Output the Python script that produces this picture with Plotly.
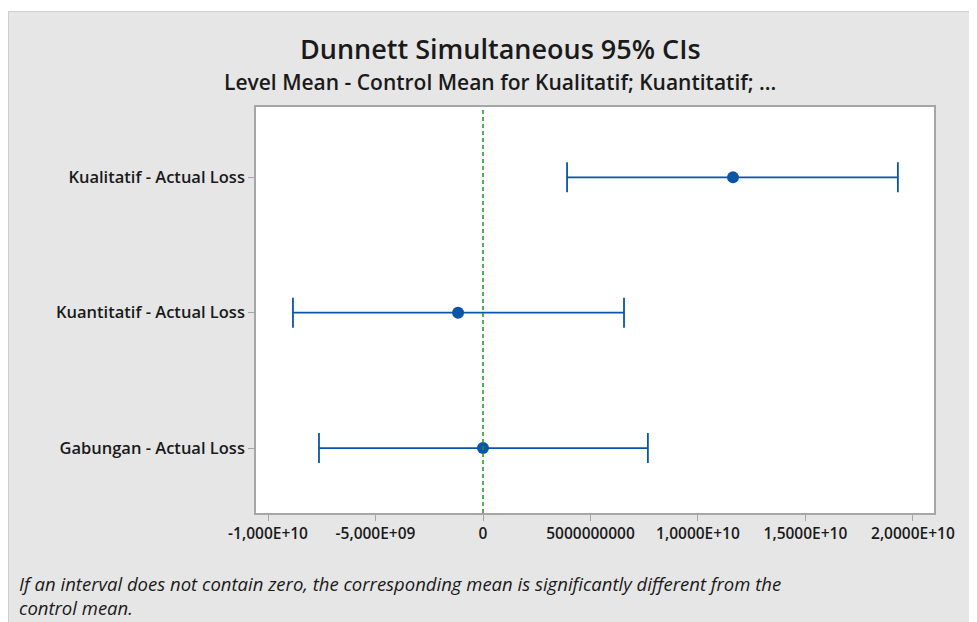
import plotly.graph_objects as go

# Data
categories = ["Gabungan - Actual Loss", "Kuantitatif - Actual Loss", "Kualitatif - Actual Loss"]
means = [0.0, -1.16e9, 1.163e10]
lower = [-7.63e9, -8.84e9, 3.91e9]
upper = [7.67e9, 6.56e9, 1.930e10]

tick_vals = [-1e10, -5e9, 0, 5e9, 1e10, 1.5e10, 2e10]
tick_text = ["-1,000E+10", "-5,000E+09", "0", "5000000000", "1,0000E+10", "1,5000E+10", "2,0000E+10"]

W, H = 977, 622
OFF = 8  # page body margin
# plot area in page pixels: x 256..934, y 107..513
L = 256 - OFF
T = 107 - OFF
R = W - (934 - OFF)
B = H - (513 - OFF)
PW, PH = W - L - R, H - T - B

def px(x):  # page px -> paper x
    return (x - OFF - L) / PW

def py(y):  # page px -> paper y
    return (H - B - (y - OFF)) / PH

BLUE = "#0a55a8"
FONT = "Open Sans"
TXT = "#1a1a1a"

fig = go.Figure()
fig.add_trace(go.Scatter(
    x=means, y=categories, mode="markers",
    marker=dict(color=BLUE, size=12),
    error_x=dict(type="data", symmetric=False,
                 array=[u - m for u, m in zip(upper, means)],
                 arrayminus=[m - l for m, l in zip(means, lower)],
                 color=BLUE, thickness=1.8, width=15),
    showlegend=False, cliponaxis=False,
))

fig.add_shape(type="line", xref="x", yref="paper", x0=0, x1=0, y0=0, y1=1,
              line=dict(color="#159a15", width=1.5, dash="4px,3px"))

# white strip above the grey panel and its light border
fig.add_shape(type="rect", xref="paper", yref="paper", layer="below",
              x0=px(0), x1=px(W + 20), y0=py(11), y1=py(0),
              fillcolor="white", line=dict(width=0))
fig.add_shape(type="line", xref="paper", yref="paper", layer="below",
              x0=px(8), x1=px(W + 20), y0=py(11.5), y1=py(11.5),
              line=dict(color="#cfcfcf", width=1))
fig.add_shape(type="line", xref="paper", yref="paper", layer="below",
              x0=px(8.5), x1=px(8.5), y0=py(11.5), y1=py(H + 20),
              line=dict(color="#cfcfcf", width=1))

fig.add_annotation(text="Dunnett Simultaneous 95% CIs", xref="paper", yref="paper",
                   x=px(500), y=py(48), xanchor="center", yanchor="middle", showarrow=False,
                   font=dict(family=FONT, size=27, color=TXT, weight=600))
fig.add_annotation(text="Level Mean - Control Mean for Kualitatif; Kuantitatif; ...",
                   xref="paper", yref="paper",
                   x=px(500), y=py(82), xanchor="center", yanchor="middle", showarrow=False,
                   font=dict(family=FONT, size=21, color=TXT, weight=600))
fig.add_annotation(text="<i>If an interval does not contain zero, the corresponding mean is significantly different from the<br>control mean.</i>",
                   xref="paper", yref="paper", align="left",
                   x=px(17), y=py(569), xanchor="left", yanchor="top", showarrow=False,
                   font=dict(family=FONT, size=18.5, color=TXT))

fig.update_xaxes(range=[-1.056e10, 2.098e10], tickvals=tick_vals, ticktext=tick_text,
                 showgrid=False, zeroline=False, showline=True, mirror=True,
                 linecolor="#a6a6a6", linewidth=1.5, ticks="outside", ticklen=6,
                 tickcolor="#a6a6a6",
                 tickfont=dict(family=FONT, size=15.5, color=TXT, weight=600))
fig.update_yaxes(type="category", categoryorder="array", categoryarray=categories,
                 range=[-0.48, 2.52], showgrid=False, zeroline=False, showline=True, mirror=True,
                 linecolor="#a6a6a6", linewidth=1.5, ticks="outside", ticklen=6,
                 tickcolor="#a6a6a6",
                 tickfont=dict(family=FONT, size=16.5, color=TXT, weight=600))

fig.update_layout(width=W, height=H, margin=dict(l=L, r=R, t=T, b=B, autoexpand=False),
                  paper_bgcolor="#e6e6e6", plot_bgcolor="white")

fig.write_html("out.html")
